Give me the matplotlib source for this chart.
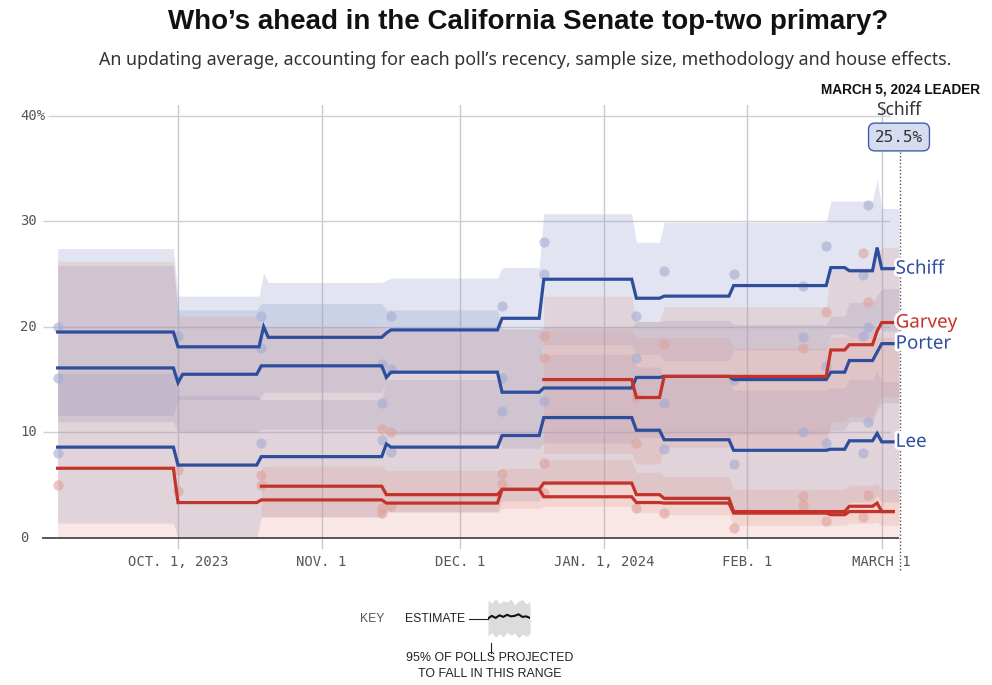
import matplotlib
matplotlib.use("Agg")
import matplotlib.pyplot as plt
import matplotlib.patheffects as pe
from matplotlib.transforms import blended_transform_factory

# day 0 = Oct. 1, 2023
tick_days = [0, 31, 61, 92, 123, 152]
tick_labels = ["OCT. 1, 2023", "NOV. 1", "DEC. 1", "JAN. 1, 2024", "FEB. 1", "MARCH 1"]
y_ticks = [0, 10, 20, 30, 40]
y_labels = ["0", "10", "20", "30", "40%"]

BAND_END = 155.7
LINE_END = 154.5
LEADER_DAY = 156

schiff_days = [-26, -1, 17.5, 18.5, 44, 45, 69, 78, 98, 104, 119, 140, 144, 150, 151]
schiff_est = [19.5, 18.1, 20.0, 19.0, 19.4, 19.7, 20.8, 24.5, 22.7, 22.9, 23.9, 25.6, 25.3, 27.5, 25.5]
schiff_lo = [11.6, 13.1, 13.8, 13.8, 15.0, 15.6, 16.0, 18.3, 17.4, 16.8, 17.8, 19.3, 19.0, 20.5, 19.6]
schiff_hi = [27.4, 22.9, 25.1, 24.2, 24.4, 24.6, 25.6, 30.7, 28.0, 29.9, 29.9, 31.9, 31.9, 34.0, 31.2]

porter_days = [-26, -1, 0, 17, 44, 45, 69, 78, 98, 104, 119, 140, 144, 150, 151]
porter_est = [16.1, 14.7, 15.5, 16.3, 15.2, 15.7, 13.8, 14.2, 15.2, 15.3, 15.0, 15.7, 16.8, 17.6, 18.4]
porter_lo = [11.0, 10.0, 10.0, 10.3, 9.8, 9.8, 8.5, 9.0, 9.5, 9.6, 9.8, 10.2, 11.0, 12.0, 12.8]
porter_hi = [25.8, 21.6, 21.6, 22.2, 21.6, 21.6, 19.8, 20.0, 20.5, 20.6, 20.2, 21.0, 22.3, 23.0, 23.6]

lee_days = [-26, -1, 17, 44, 45, 69, 78, 98, 104, 119, 140, 144, 150, 151]
lee_est = [8.6, 6.9, 7.7, 8.9, 8.6, 9.7, 11.4, 10.2, 9.3, 8.3, 8.4, 9.2, 9.9, 9.1]
lee_lo = [1.4, 0.0, 2.0, 2.5, 2.5, 3.5, 5.0, 4.2, 3.4, 2.6, 2.7, 3.4, 4.0, 3.4]
lee_hi = [15.6, 13.5, 13.1, 15.0, 15.0, 16.0, 17.4, 16.2, 15.2, 14.0, 14.2, 15.0, 15.8, 14.8]

garvey_days = [79, 98, 104, 140, 144, 150, 151]
garvey_est = [15.0, 13.3, 15.3, 17.8, 18.3, 19.6, 20.4]
garvey_lo = [8.0, 7.0, 8.6, 11.0, 11.5, 12.6, 13.4]
garvey_hi = [22.9, 20.5, 21.9, 25.4, 25.6, 26.8, 27.5]

rep_a_days = [-26, -1, 17, 44, 69, 78, 98, 104, 119, 140, 144, 151]
rep_a_est = [6.6, 3.35, 3.6, 3.3, 4.6, 3.9, 3.35, 3.3, 2.35, 2.2, 2.5, 2.5]
rep_a_lo = [0, 0, 0, 0, 0, 0, 0, 0, 0, 0, 0, 0]
rep_a_hi = [26.2, 21.0, 20.0, 19.8, 19.8, 19.7, 19.0, 19.0, 18.0, 19.0, 19.0, 19.0]

rep_b_days = [18, 44, 69, 78, 98, 104, 119, 144, 150, 151]
rep_b_est = [4.9, 4.1, 4.6, 5.2, 4.1, 3.75, 2.5, 3.0, 3.3, 2.5]
rep_b_lo = [2.0, 2.4, 2.8, 3.0, 2.4, 2.2, 1.2, 1.4, 1.5, 1.2]
rep_b_hi = [6.8, 6.4, 6.6, 7.4, 6.2, 5.8, 4.6, 5.0, 5.2, 4.6]

# individual polls (day, pct)
blue_poll_days = [-26, -26, -26, 0, 18, 18, 18, 44, 46, 46, 44, 44, 46, 70, 70, 70, 79, 79, 79,
                  99, 99, 105, 105, 105, 120, 120, 120, 135, 135, 135, 140, 140, 140,
                  149, 148, 149, 148, 149, 148]
blue_poll_vals = [20.0, 15.1, 8.0, 19.1, 21.0, 18.0, 9.0, 16.5, 21.0, 16.0, 12.8, 9.3, 8.1, 22.0, 12.0, 15.1,
                  28.0, 25.0, 13.0, 21.0, 17.0, 25.3, 12.8, 8.4, 25.0, 15.0, 7.0, 23.9, 19.0, 10.0,
                  27.6, 16.3, 9.0, 31.5, 24.9, 20.0, 19.1, 11.0, 8.0]
red_poll_days = [-26, 0, 0, 18, 18, 44, 46, 44, 44, 46, 70, 70, 79, 79, 79, 79, 99, 99, 99,
                 105, 105, 120, 135, 135, 135, 140, 140, 148, 149, 149, 148]
red_poll_vals = [5.0, 6.4, 4.4, 6.0, 5.0, 10.3, 10.0, 2.8, 2.4, 3.0, 6.1, 5.1, 19.1, 17.0, 7.1, 4.3,
                 13.3, 9.0, 2.8, 18.4, 2.4, 0.95, 18.0, 4.0, 3.1, 21.4, 1.6, 27.0, 22.3, 4.1, 2.0]

# key sketch
key_x = [0, 1, 2, 3, 4, 5, 6, 7, 8, 9, 10, 11]
key_est = [0.1, 0.6, 0.2, 0.7, 0.4, 0.8, 0.5, 0.6, 0.9, 0.4, 0.5, 0.2]
key_lo = [-3.2, -2.6, -3.5, -2.8, -3.4, -2.5, -3.1, -2.7, -3.6, -2.9, -3.3, -2.8]
key_hi = [3.6, 3.0, 3.9, 2.9, 3.5, 3.2, 3.8, 2.7, 3.4, 3.7, 2.9, 3.3]

BLUE = "#2e4d9c"
RED = "#c4332a"
BLUE_BAND = "#8f9cc9"
RED_BAND = "#e0948a"


def step_path(days, vals, end, ramp=1.0):
    xs, ys = [days[0]], [vals[0]]
    for d, v in zip(days[1:], vals[1:]):
        xs += [d, d + ramp]
        ys += [ys[-1], v]
    xs.append(end)
    ys.append(ys[-1])
    return xs, ys


fig = plt.figure(figsize=(9.92, 6.85), dpi=100)
ax = fig.add_axes([42 / 992, 1 - 548.5 / 685, 860 / 992, (548.5 - 105) / 685])
ax.set_xlim((42 - 178) / 4.63, (902 - 178) / 4.63)
ax.set_ylim(-1, 41)
ax.axis("off")

# grid
for d in tick_days:
    ax.axvline(d, color="#c9c9d2", lw=1, zorder=0)
for v in y_ticks[1:]:
    start = (48 - 178) / 4.63 if v == 40 else (43 - 178) / 4.63
    ax.hlines(v, start, 153.8, color="#cfcfd4", lw=1, zorder=0)
ax.hlines(0, (41 - 178) / 4.63, 155.7, color="#4a4a4a", lw=1.3, zorder=6)

series = [
    (schiff_days, schiff_est, schiff_lo, schiff_hi, BLUE, BLUE_BAND),
    (porter_days, porter_est, porter_lo, porter_hi, BLUE, BLUE_BAND),
    (lee_days, lee_est, lee_lo, lee_hi, BLUE, BLUE_BAND),
    (garvey_days, garvey_est, garvey_lo, garvey_hi, RED, RED_BAND),
    (rep_a_days, rep_a_est, rep_a_lo, rep_a_hi, RED, RED_BAND),
    (rep_b_days, rep_b_est, rep_b_lo, rep_b_hi, RED, RED_BAND),
]

for days, est, lo, hi, col, band_col in series:
    bx, blo = step_path(days, lo, BAND_END)
    _, bhi = step_path(days, hi, BAND_END)
    a = 0.26 if band_col == BLUE_BAND else 0.22
    ax.fill_between(bx, blo, bhi, color=band_col, alpha=a, lw=0, zorder=1)

ax.scatter(blue_poll_days, blue_poll_vals, s=55, color="#a3acd2", alpha=0.6, lw=0, zorder=2)
ax.scatter(red_poll_days, red_poll_vals, s=55, color="#dea29b", alpha=0.6, lw=0, zorder=2)

for days, est, lo, hi, col, band_col in series:
    lx, ly = step_path(days, est, LINE_END)
    ax.plot(lx, ly, color=col, lw=2.3, solid_joinstyle="miter", zorder=4)

# leader marker
ax.plot([LEADER_DAY, LEADER_DAY], [-3.0, 39.0], color="#555555", lw=1, ls=(0, (1, 1.5)),
        clip_on=False, zorder=5)

halo = [pe.withStroke(linewidth=4, foreground="white")]
end_labels = [("Schiff", schiff_est[-1], BLUE), ("Garvey", garvey_est[-1], RED),
              ("Porter", porter_est[-1], BLUE), ("Lee", lee_est[-1], BLUE)]
for name, v, col in end_labels:
    ax.text(LINE_END + 0.5, v, name, color=col, fontsize=13.5, family="Noto Sans",
            va="center", ha="left", clip_on=False, path_effects=halo, zorder=7)

# axis labels
for d, lab in zip(tick_days, tick_labels):
    ax.text(d, -2.3, lab, ha="center", va="center", family="DejaVu Sans Mono",
            fontsize=10, color="#555555")
yt = blended_transform_factory(ax.transAxes, ax.transData)
for v, lab in zip(y_ticks, y_labels):
    ax.text(-22 / 860, v, lab, transform=yt, ha="left", va="center",
            family="DejaVu Sans Mono", fontsize=10, color="#555555")

# titles
fig.text(0.532, 1 - 22 / 685, "Who\u2019s ahead in the California Senate top-two primary?",
         ha="center", va="center", fontsize=20, weight="bold", family="Liberation Sans",
         color="#111111")
fig.text(0.529, 1 - 60 / 685,
         "An updating average, accounting for each poll\u2019s recency, sample size, methodology and house effects.",
         ha="center", va="center", fontsize=12.8, family="Noto Sans", color="#333333")
fig.text(980 / 992, 1 - 89 / 685, "MARCH 5, 2024 LEADER", ha="right", va="center",
         fontsize=9.8, weight="bold", family="Liberation Sans", color="#111111")
fig.text(899 / 992, 1 - 110 / 685, "Schiff", ha="center", va="center", fontsize=12.5,
         family="Noto Sans", color="#333333")
fig.text(899 / 992, 1 - 137 / 685, f"{schiff_est[-1]}%", ha="center", va="center",
         fontsize=11.5, family="DejaVu Sans Mono", color="#333333",
         bbox=dict(boxstyle="round,pad=0.4,rounding_size=0.4", fc="#d6dcef", ec="#3f5da8", lw=1))

# key
fig.text(360 / 992, 1 - 619 / 685, "KEY", ha="left", va="center", fontsize=8.8,
         family="Liberation Sans", color="#555555")
fig.text(405 / 992, 1 - 619 / 685, "ESTIMATE", ha="left", va="center", fontsize=8.8,
         family="Liberation Sans", color="#222222")
fig.add_artist(plt.Line2D([469 / 992, 488 / 992], [1 - 619 / 685] * 2, color="#222222", lw=0.8))
fig.add_artist(plt.Line2D([491 / 992, 491 / 992], [1 - 643 / 685, 1 - 653 / 685],
                          color="#222222", lw=0.8))
fig.text(490 / 992, 1 - 658 / 685, "95% OF POLLS PROJECTED", ha="center", va="center",
         fontsize=8.9, family="Liberation Sans", color="#222222")
fig.text(490 / 992, 1 - 674 / 685, "TO FALL IN THIS RANGE", ha="center", va="center",
         fontsize=8.9, family="Liberation Sans", color="#222222")
kax = fig.add_axes([488 / 992, 1 - 640 / 685, 42 / 992, 42 / 685])
kax.fill_between(key_x, key_lo, key_hi, color="#dcdcdc", lw=0)
kax.plot(key_x, key_est, color="#111111", lw=1.5)
kax.set_xlim(0, 11)
kax.set_ylim(-4, 4)
kax.axis("off")

fig.savefig("out.png", dpi=100)
